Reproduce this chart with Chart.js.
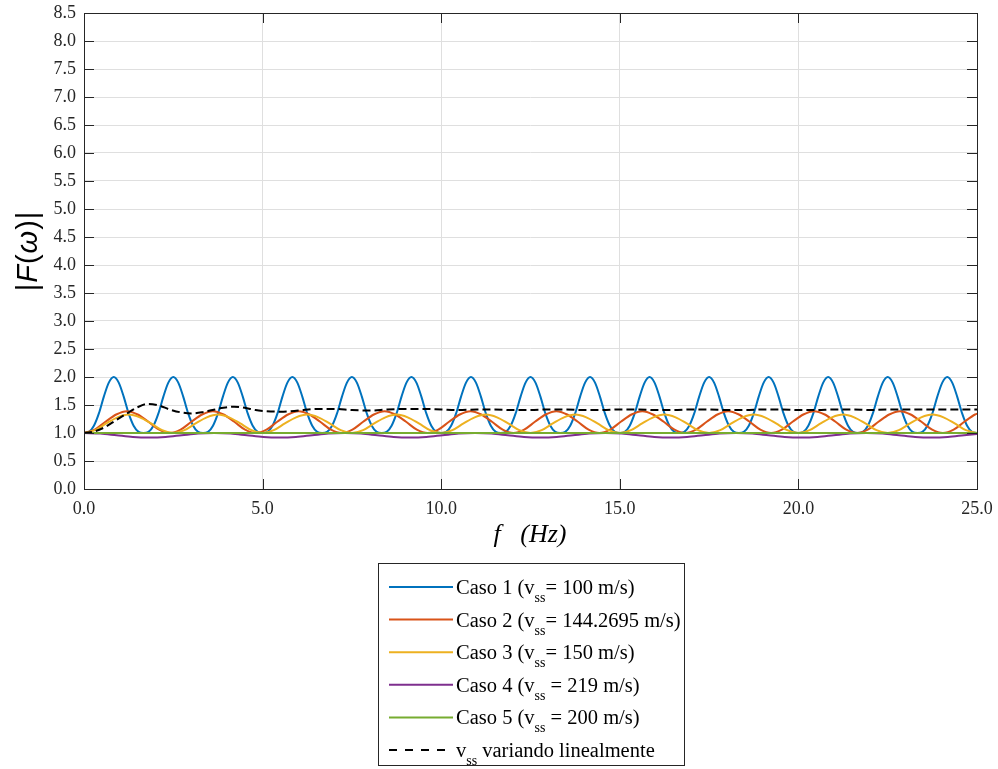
<!DOCTYPE html>
<html>
<head>
<meta charset="utf-8">
<script src="https://cdn.jsdelivr.net/npm/chart.js@4.4.0/dist/chart.umd.min.js"></script>
<style>
  html, body { margin: 0; padding: 0; background: #ffffff; }
  #wrap { width: 998px; height: 769px; position: relative; }
</style>
</head>
<body>
<div id="wrap"><canvas id="chart" width="998" height="769"></canvas></div>
<script>
// Frequency sampling step of each case (Hz)
const caso1Step = 1.6667 / 12;
const caso2Step = 2.4045 / 8;
const caso3Step = 2.5 / 8;
const caso4Step = 3.65 / 8;

// |F(w)| values, Caso 1 (v_ss = 100 m/s)
const caso1Values = [
  1.00,1.02,1.13,1.35,1.65,1.90,2.00,1.90,1.65,1.35,1.13,1.02,
  1.00,1.02,1.13,1.35,1.65,1.90,2.00,1.90,1.65,1.35,1.13,1.02,
  1.00,1.02,1.13,1.35,1.65,1.90,2.00,1.90,1.65,1.35,1.13,1.02,
  1.00,1.02,1.13,1.35,1.65,1.90,2.00,1.90,1.65,1.35,1.13,1.02,
  1.00,1.02,1.13,1.35,1.65,1.90,2.00,1.90,1.65,1.35,1.13,1.02,
  1.00,1.02,1.13,1.35,1.65,1.90,2.00,1.90,1.65,1.35,1.13,1.02,
  1.00,1.02,1.13,1.35,1.65,1.90,2.00,1.90,1.65,1.35,1.13,1.02,
  1.00,1.02,1.13,1.35,1.65,1.90,2.00,1.90,1.65,1.35,1.13,1.02,
  1.00,1.02,1.13,1.35,1.65,1.90,2.00,1.90,1.65,1.35,1.13,1.02,
  1.00,1.02,1.13,1.35,1.65,1.90,2.00,1.90,1.65,1.35,1.13,1.02,
  1.00,1.02,1.13,1.35,1.65,1.90,2.00,1.90,1.65,1.35,1.13,1.02,
  1.00,1.02,1.13,1.35,1.65,1.90,2.00,1.90,1.65,1.35,1.13,1.02,
  1.00,1.02,1.13,1.35,1.65,1.90,2.00,1.90,1.65,1.35,1.13,1.02,
  1.00,1.02,1.13,1.35,1.65,1.90,2.00,1.90,1.65,1.35,1.13,1.02,
  1.00,1.02,1.13,1.35,1.65,1.90,2.00,1.90,1.65,1.35,1.13,1.02,
  1.00
];

// Caso 2 (v_ss = 144.2695 m/s)
const caso2Values = [
  1.00,1.06,1.20,1.33,1.39,1.33,1.20,1.06,
  1.00,1.06,1.20,1.33,1.39,1.33,1.20,1.06,
  1.00,1.06,1.20,1.33,1.39,1.33,1.20,1.06,
  1.00,1.06,1.20,1.33,1.39,1.33,1.20,1.06,
  1.00,1.06,1.20,1.33,1.39,1.33,1.20,1.06,
  1.00,1.06,1.20,1.33,1.39,1.33,1.20,1.06,
  1.00,1.06,1.20,1.33,1.39,1.33,1.20,1.06,
  1.00,1.06,1.20,1.33,1.39,1.33,1.20,1.06,
  1.00,1.06,1.20,1.33,1.39,1.33,1.20,1.06,
  1.00,1.06,1.20,1.33,1.39,1.33,1.20,1.06,
  1.00,1.06,1.20,1.33,1.39
];

// Caso 3 (v_ss = 150 m/s)
const caso3Values = [
  1.00,1.05,1.17,1.28,1.33,1.28,1.17,1.05,
  1.00,1.05,1.17,1.28,1.33,1.28,1.17,1.05,
  1.00,1.05,1.17,1.28,1.33,1.28,1.17,1.05,
  1.00,1.05,1.17,1.28,1.33,1.28,1.17,1.05,
  1.00,1.05,1.17,1.28,1.33,1.28,1.17,1.05,
  1.00,1.05,1.17,1.28,1.33,1.28,1.17,1.05,
  1.00,1.05,1.17,1.28,1.33,1.28,1.17,1.05,
  1.00,1.05,1.17,1.28,1.33,1.28,1.17,1.05,
  1.00,1.05,1.17,1.28,1.33,1.28,1.17,1.05,
  1.00,1.05,1.17,1.28,1.33,1.28,1.17,1.05,
  1.00
];

// Caso 4 (v_ss = 219 m/s)
const caso4Values = [
  1.00,0.99,0.96,0.93,0.92,0.93,0.96,0.99,
  1.00,0.99,0.96,0.93,0.92,0.93,0.96,0.99,
  1.00,0.99,0.96,0.93,0.92,0.93,0.96,0.99,
  1.00,0.99,0.96,0.93,0.92,0.93,0.96,0.99,
  1.00,0.99,0.96,0.93,0.92,0.93,0.96,0.99,
  1.00,0.99,0.96,0.93,0.92,0.93,0.96,0.99,
  1.00,0.99,0.96,0.93,0.92,0.93,0.96,0.99
];

// Caso 5 (v_ss = 200 m/s)
const caso5Freq = [0, 25];
const caso5Values = [1.00, 1.00];

// v_ss varying linearly
const linealFreq = [0,0.3,0.6,0.9,1.2,1.5,1.8,2.1,2.4,2.7,3.0,3.3,3.6,3.9,4.2,4.5,4.8,5.1,5.5,
  6.0,6.5,7.0,7.5,8.0,8.5,9.0,9.5,10,10.5,11,11.5,12,12.5,13,13.5,14,14.5,15,15.5,16,16.5,
  17,17.5,18,18.5,19,19.5,20,20.5,21,21.5,22,22.5,23,23.5,24,24.5,25];
const linealValues = [1.00,1.03,1.11,1.23,1.35,1.46,1.52,1.49,1.42,1.37,1.35,1.37,1.41,1.45,1.47,1.45,1.41,1.39,1.38,
  1.40,1.43,1.43,1.41,1.40,1.42,1.43,1.43,1.42,1.41,1.42,1.42,1.41,1.41,1.42,1.42,1.41,1.41,1.42,1.42,1.41,1.41,
  1.42,1.42,1.41,1.41,1.42,1.42,1.41,1.41,1.42,1.42,1.41,1.42,1.42,1.42,1.42,1.42,1.42];

// Axis ticks
const xTicks = [0, 5, 10, 15, 20, 25];
const yTicks = [0,0.5,1,1.5,2,2.5,3,3.5,4,4.5,5,5.5,6,6.5,7,7.5,8,8.5];

const seriesLabels = [
  { pre: 'Caso 1 (v', sub: 'ss', post: '= 100 m/s)' },
  { pre: 'Caso 2 (v', sub: 'ss', post: '= 144.2695 m/s)' },
  { pre: 'Caso 3 (v', sub: 'ss', post: '= 150 m/s)' },
  { pre: 'Caso 4 (v', sub: 'ss', post: ' = 219 m/s)' },
  { pre: 'Caso 5 (v', sub: 'ss', post: ' = 200 m/s)' },
  { pre: 'v', sub: 'ss', post: ' variando linealmente' }
];
const seriesColors = ['#0072BD', '#D95319', '#EDB120', '#7E2F8E', '#77AC30', '#000000'];

function stepped(values, step) { return values.map((v, i) => ({ x: i * step, y: v })); }
function paired(xs, ys) { return xs.map((x, i) => ({ x: x, y: ys[i] })); }

const AXIS = '#262626';
const SERIF = '"Liberation Serif", "Times New Roman", serif';
const SANS = '"Liberation Sans", Arial, sans-serif';

// drop the automatic label-overflow padding so the plot box sits exactly where the layout padding puts it
function noScalePadding(s) {
  s.paddingLeft = 0; s.paddingRight = 0; s.paddingTop = 0; s.paddingBottom = 0;
}

const framePlugin = {
  id: 'frame',
  beforeDraw(chart) {
    const c = chart.ctx;
    c.save();
    c.fillStyle = '#ffffff';
    c.fillRect(0, 0, chart.width, chart.height);
    c.restore();
  },
  afterDraw(chart) {
    const c = chart.ctx;
    const a = chart.chartArea;
    const xs = chart.scales.x, ys = chart.scales.y;
    c.save();
    // box and inward tick marks
    c.strokeStyle = AXIS;
    c.lineWidth = 1;
    c.strokeRect(Math.round(a.left) + 0.5, Math.round(a.top) + 0.5,
                 Math.round(a.right - a.left), Math.round(a.bottom - a.top));
    c.beginPath();
    const tl = 10;
    yTicks.forEach(t => {
      const y = Math.round(ys.getPixelForValue(t)) + 0.5;
      c.moveTo(a.left, y); c.lineTo(a.left + tl, y);
      c.moveTo(a.right, y); c.lineTo(a.right - tl, y);
    });
    xTicks.forEach(t => {
      const x = Math.round(xs.getPixelForValue(t)) + 0.5;
      c.moveTo(x, a.bottom); c.lineTo(x, a.bottom - tl);
      c.moveTo(x, a.top); c.lineTo(x, a.top + tl);
    });
    c.stroke();

    // y axis title |F(w)|
    c.fillStyle = '#000000';
    c.translate(29, 251);
    c.rotate(-Math.PI / 2);
    const parts = [['|', false], ['F', true], ['(', false], ['\u03C9', true], [')', false], ['|', false]];
    let total = 0;
    parts.forEach(p => { c.font = (p[1] ? 'italic ' : '') + '29px ' + SANS; total += c.measureText(p[0]).width + 1; });
    let px = -total / 2;
    c.textBaseline = 'middle';
    c.textAlign = 'left';
    parts.forEach(p => {
      c.font = (p[1] ? 'italic ' : '') + '29px ' + SANS;
      c.fillText(p[0], px, 0);
      px += c.measureText(p[0]).width + 1;
    });
    c.setTransform(1, 0, 0, 1, 0, 0);

    // x axis title
    c.font = 'italic 26px ' + SERIF;
    c.textAlign = 'center';
    c.textBaseline = 'middle';
    c.fillText('f   (Hz)', 530, 535);

    // legend
    const lx = 378.5, ly = 563.5, lw = 306, lh = 202;
    c.fillStyle = '#ffffff';
    c.fillRect(lx, ly, lw, lh);
    c.strokeStyle = '#262626';
    c.lineWidth = 1;
    c.strokeRect(lx, ly, lw, lh);
    seriesLabels.forEach((s, i) => {
      const cy = 587 + i * 32.6;
      c.strokeStyle = seriesColors[i];
      c.lineWidth = 2;
      c.setLineDash(i === 5 ? [8, 8] : []);
      c.beginPath();
      c.moveTo(389, cy); c.lineTo(453, cy);
      c.stroke();
      c.setLineDash([]);
      c.fillStyle = '#000000';
      c.textAlign = 'left';
      c.textBaseline = 'alphabetic';
      let tx = 456;
      const base = cy + 7;
      c.font = '20.5px ' + SERIF;
      c.fillText(s.pre, tx, base);
      tx += c.measureText(s.pre).width;
      c.font = '14px ' + SERIF;
      c.fillText(s.sub, tx, base + 8);
      tx += c.measureText(s.sub).width;
      c.font = '20.5px ' + SERIF;
      c.fillText(s.post, tx, base);
    });
    c.restore();
  }
};

function lineSet(i, data) {
  return {
    label: seriesLabels[i].pre + seriesLabels[i].sub + seriesLabels[i].post,
    data: data,
    borderColor: seriesColors[i],
    backgroundColor: seriesColors[i],
    borderWidth: 2,
    pointRadius: 0,
    fill: false,
    cubicInterpolationMode: 'monotone',
    order: 6 - i
  };
}

const datasets = [
  lineSet(0, stepped(caso1Values, caso1Step)),
  lineSet(1, stepped(caso2Values, caso2Step)),
  lineSet(2, stepped(caso3Values, caso3Step)),
  lineSet(3, stepped(caso4Values, caso4Step)),
  lineSet(4, paired(caso5Freq, caso5Values)),
  Object.assign(lineSet(5, paired(linealFreq, linealValues)), { borderDash: [8, 4] })
];

new Chart(document.getElementById('chart'), {
  type: 'line',
  data: { datasets: datasets },
  plugins: [framePlugin],
  options: {
    responsive: false,
    devicePixelRatio: 1,
    animation: false,
    layout: { padding: { left: 0, right: 21, top: 13, bottom: 0 } },
    plugins: { legend: { display: false }, tooltip: { enabled: false } },
    scales: {
      x: {
        type: 'linear',
        min: 0, max: 25,
        afterFit(s) { s.height = 280; noScalePadding(s); },
        afterBuildTicks(s) { s.ticks = xTicks.map(v => ({ value: v })); },
        ticks: {
          callback: v => Number(v).toFixed(1),
          font: { family: SERIF, size: 18 },
          color: AXIS,
          padding: 9,
          maxRotation: 0
        },
        grid: { color: '#dfdfdf', lineWidth: 1, drawTicks: false },
        border: { display: false }
      },
      y: {
        type: 'linear',
        min: 0, max: 8.5,
        afterFit(s) { s.width = 84; noScalePadding(s); },
        afterBuildTicks(s) { s.ticks = yTicks.map(v => ({ value: v })); },
        ticks: {
          callback: v => Number(v).toFixed(1),
          font: { family: SERIF, size: 18 },
          color: AXIS,
          padding: 8
        },
        grid: { color: '#dfdfdf', lineWidth: 1, drawTicks: false },
        border: { display: false }
      }
    }
  }
});
</script>
</body>
</html>
